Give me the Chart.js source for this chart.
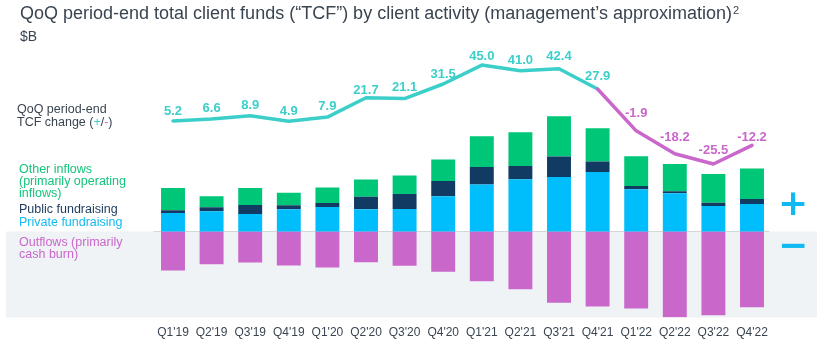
<!DOCTYPE html>
<html>
<head>
<meta charset="utf-8">
<script src="https://cdn.jsdelivr.net/npm/chart.js@4"></script>
<style>
  html, body { margin: 0; padding: 0; background: #ffffff; }
  #wrap { position: relative; width: 827px; height: 355px; }
</style>
</head>
<body>
<div id="wrap"><canvas id="c" width="827" height="355"></canvas></div>
<script>
// ---- data ($B) ----
const categories = ["Q1'19","Q2'19","Q3'19","Q4'19","Q1'20","Q2'20","Q3'20","Q4'20","Q1'21","Q2'21","Q3'21","Q4'21","Q1'22","Q2'22","Q3'22","Q4'22"];
const privateFundraising = [18.3, 20.0, 17.3, 22.0, 24.3, 22.0, 22.3, 35.0, 46.7, 52.0, 54.3, 59.3, 42.0, 38.0, 25.3, 27.3];
const publicFundraising  = [2.7, 4.0, 9.0, 4.0, 4.0, 12.7, 15.0, 15.3, 17.6, 13.3, 20.4, 10.4, 3.3, 2.0, 3.4, 5.0];
const otherInflows       = [22.3, 11.0, 17.0, 12.7, 15.4, 17.0, 18.4, 21.4, 30.7, 33.7, 40.3, 33.3, 29.7, 27.3, 28.6, 30.4];
const outflows           = [-39.0, -32.7, -31.0, -34.0, -36.0, -30.7, -34.3, -40.3, -49.7, -57.7, -71.3, -75.0, -77.0, -85.7, -83.7, -75.7];
const tcfChange          = [5.2, 6.6, 8.9, 4.9, 7.9, 21.7, 21.1, 31.5, 45.0, 41.0, 42.4, 27.9, -1.9, -18.2, -25.5, -12.2];

// ---- styles ----
const C_OTHER = '#00c678';
const C_PUBLIC = '#113b62';
const C_PRIVATE = '#00bdfb';
const C_OUT = '#c967ca';
const C_TEAL = '#3ccfca';
const C_MAG = '#c967ca';
const C_TEXT = '#3a4551';
const FONT = '"Liberation Sans", Arial, sans-serif';

const labelLift = [9, 11, 10, 10, 11, 7, 11, 10, 9, 10, 12, 13, 17, 16, 14, 8];

const decorPlugin = {
  id: 'decor',
  beforeDatasetsDraw(chart) {
    const ctx = chart.ctx, ca = chart.chartArea;
    const y0 = chart.scales.y.getPixelForValue(0);
    ctx.save();
    ctx.fillStyle = '#f0f3f6';
    ctx.fillRect(6, y0, 811, ca.bottom - y0);
    ctx.strokeStyle = '#d3d7dc';
    ctx.lineWidth = 1;
    ctx.beginPath();
    ctx.moveTo(ca.left, Math.round(y0) + 0.5);
    ctx.lineTo(ca.right - 2, Math.round(y0) + 0.5);
    ctx.stroke();
    ctx.restore();
  },
  afterDatasetsDraw(chart) {
    const ctx = chart.ctx;
    const meta = chart.getDatasetMeta(4);
    ctx.save();
    ctx.font = 'bold 13px ' + FONT;
    ctx.textAlign = 'center';
    ctx.textBaseline = 'middle';
    meta.data.forEach((pt, i) => {
      const v = tcfChange[i];
      ctx.fillStyle = v < 0 ? C_MAG : C_TEAL;
      ctx.fillText(v.toFixed(1), pt.x, pt.y - labelLift[i]);
    });
    ctx.restore();
  },
  afterDraw(chart) {
    const ctx = chart.ctx;
    ctx.save();
    ctx.textBaseline = 'middle';
    ctx.textAlign = 'left';
    // title
    ctx.fillStyle = C_TEXT;
    ctx.font = '18px ' + FONT;
    const title = 'QoQ period-end total client funds (\u201CTCF\u201D) by client activity (management\u2019s approximation)';
    ctx.fillText(title, 20, 14);
    const tw = ctx.measureText(title).width;
    ctx.font = '11px ' + FONT;
    ctx.fillText('2', 20 + tw + 1, 11);
    ctx.font = '14px ' + FONT;
    ctx.fillText('$B', 20, 37);

    ctx.font = '12.5px ' + FONT;
    // line legend
    ctx.fillStyle = C_TEXT;
    ctx.fillText('QoQ period-end', 17, 110);
    let x = 17;
    const parts = [['TCF change (', C_TEXT], ['+', C_TEAL], ['/', C_TEXT], ['-', C_MAG], [')', C_TEXT]];
    parts.forEach(([t, c]) => {
      ctx.fillStyle = c;
      ctx.fillText(t, x, 123);
      x += ctx.measureText(t).width;
    });
    // bar legends
    ctx.fillStyle = '#14c47b';
    ctx.fillText('Other inflows', 19, 170);
    ctx.fillText('(primarily operating', 19, 182);
    ctx.fillText('inflows)', 19, 194);
    ctx.fillStyle = '#1b3a5c';
    ctx.fillText('Public fundraising', 19, 210);
    ctx.fillStyle = '#16b9f1';
    ctx.fillText('Private fundraising', 19, 222.5);
    ctx.fillStyle = C_MAG;
    ctx.fillText('Outflows (primarily', 19, 242.5);
    ctx.fillText('cash burn)', 19, 255);

    // plus / minus signs
    ctx.fillStyle = '#10b9f2';
    ctx.textAlign = 'center';
    ctx.font = 'bold 36px "DejaVu Sans", sans-serif';
    ctx.fillText('+', 793, 206);
    ctx.fillText('\u2212', 793, 248);
    ctx.restore();
  }
};

const barCommon = { yAxisID: 'y', stack: 'tcf', order: 1, categoryPercentage: 1.0, barPercentage: 0.62, borderWidth: 0 };

new Chart(document.getElementById('c'), {
  data: {
    labels: categories,
    datasets: [
      Object.assign({ type: 'bar', label: 'Private fundraising', data: privateFundraising, backgroundColor: C_PRIVATE }, barCommon),
      Object.assign({ type: 'bar', label: 'Public fundraising', data: publicFundraising, backgroundColor: C_PUBLIC }, barCommon),
      Object.assign({ type: 'bar', label: 'Other inflows', data: otherInflows, backgroundColor: C_OTHER }, barCommon),
      Object.assign({ type: 'bar', label: 'Outflows', data: outflows, backgroundColor: C_OUT }, barCommon),
      {
        type: 'line', label: 'QoQ period-end TCF change', data: tcfChange, yAxisID: 'y2', order: 0,
        borderColor: C_TEAL, borderWidth: 3.5, pointRadius: 0, tension: 0,
        borderJoinStyle: 'round', borderCapStyle: 'round',
        segment: { borderColor: c => (c.p1.parsed.y < 0 ? C_MAG : C_TEAL) }
      }
    ]
  },
  options: {
    responsive: false,
    animation: false,
    devicePixelRatio: 1,
    layout: { padding: { left: 153.7, right: 55.7, top: 40, bottom: 7 } },
    plugins: { legend: { display: false }, tooltip: { enabled: false }, title: { display: false } },
    scales: {
      x: {
        stacked: true,
        offset: true,
        grid: { display: false, drawTicks: false },
        border: { display: false },
        ticks: { color: C_TEXT, font: { family: FONT, size: 12 }, padding: 8, maxRotation: 0, autoSkip: false }
      },
      y: { display: false, stacked: true, min: -86, max: 191 },
      y2: { display: false, min: -135, max: 62.857 }
    }
  },
  plugins: [decorPlugin]
});
</script>
</body>
</html>
